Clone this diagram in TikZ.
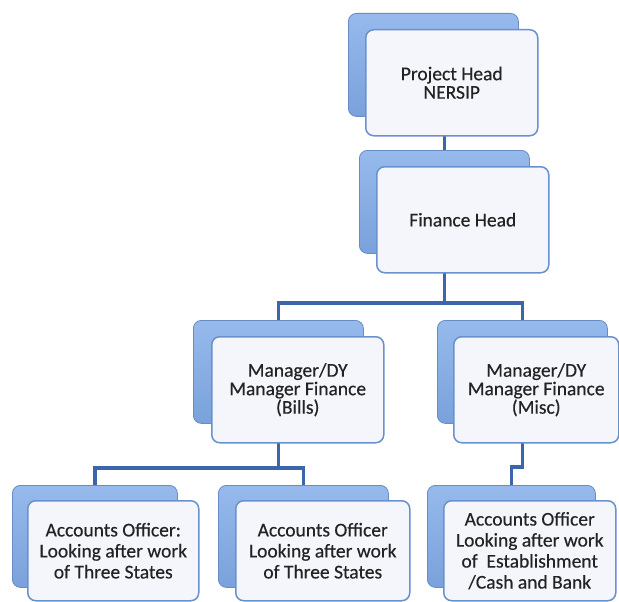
\documentclass[tikz,border=0pt]{standalone}
\usepackage{fontspec}
\setmainfont{Carlito}
\newfontfamily\boxfont{Carlito}[FakeBold=0.35]
\usetikzlibrary{calc}
\pgfdeclarelayer{pagebg}
\pgfdeclarelayer{bg}
\pgfsetlayers{pagebg,bg,main}
\definecolor{backtop}{RGB}{150,186,236}
\definecolor{backbot}{RGB}{122,161,219}
\definecolor{backedge}{RGB}{104,140,196}
\definecolor{frontedge}{RGB}{105,145,205}
\definecolor{frontfill}{RGB}{244,246,251}
\definecolor{linkc}{RGB}{60,102,172}
\definecolor{txt}{RGB}{35,35,35}
\tikzset{
  backbox/.style={draw=backedge, line width=0.8pt, rounded corners=8pt,
    top color=backtop, bottom color=backbot, minimum width=170pt,
    minimum height=103pt, anchor=north west, inner sep=0pt},
  frontbox/.style={draw=frontedge, line width=1.5pt, rounded corners=8pt,
    fill=frontfill, minimum width=172pt,
    minimum height=106pt, anchor=north west, align=center, text=txt,
    font=\boxfont\fontsize{19.5}{18.5}\selectfont, inner sep=2pt},
  frontlow/.style={frontbox, minimum height=100pt, font=\boxfont\fontsize{19.5}{21}\selectfont},
  link/.style={draw=linkc, line width=3.2pt}
}
\begin{document}
\begin{tikzpicture}[x=1pt,y=-1pt]
\begin{pgfonlayer}{pagebg}
\fill[white] (0,0) rectangle (619,602);
\end{pgfonlayer}
\useasboundingbox (0,0) rectangle (619,602);
% level 1
\node[backbox] (topb) at (348,13) {};
\node[frontbox] (topf) at (365,29) {Project Head\\NERSIP};
% level 2
\node[backbox] (finb) at (359,150) {};
\node[frontbox] (finf) at (376,166) {Finance Head};
% level 3
\node[backbox] (billsb) at (193,320) {};
\node[frontbox] (billsf) at (211,336) {Manager/DY\\Manager Finance\\(Bills)};
\node[backbox] (miscb) at (437,320) {};
\node[frontbox, minimum width=165pt] (miscf) at (453,336) {Manager/DY\\Manager Finance\\(Misc)};
% level 4
\node[backbox, minimum width=165pt, minimum height=102pt] (ab1) at (12,485) {};
\node[frontlow, minimum width=171pt] (af1) at (27,500) {Accounts Officer:\\Looking after work\\of Three States};
\node[backbox, minimum width=170pt, minimum height=102pt] (ab2) at (218,485) {};
\node[frontlow, minimum width=174pt] (af2) at (235,500) {Accounts Officer\\Looking after work\\of Three States};
\node[backbox, minimum width=168pt, minimum height=102pt] (ab3) at (427,485) {};
\node[frontlow, minimum width=172pt] (af3) at (443,500) {Accounts Officer\\Looking after work\\of~ Establishment\\/Cash and Bank};
% connectors
\coordinate (bus1) at (0,303);
\coordinate (bus2) at (0,468);
\coordinate (bus3) at (0,467);
\begin{pgfonlayer}{bg}
\draw[link] (finb.north) -- (finb.north |- topb.south);
\draw[link] (finb.south) -- (finb.south |- bus1) -| (billsb.north);
\draw[link] (finb.south |- bus1) -| (miscb.north);
\draw[link] (billsb.south) -- (billsb.south |- bus2) -| (ab1.north);
\draw[link] (billsb.south |- bus2) -| (ab2.north);
\draw[link] (miscb.south) -- (miscb.south |- bus3) -| (ab3.north);
\end{pgfonlayer}
\end{tikzpicture}
\end{document}
